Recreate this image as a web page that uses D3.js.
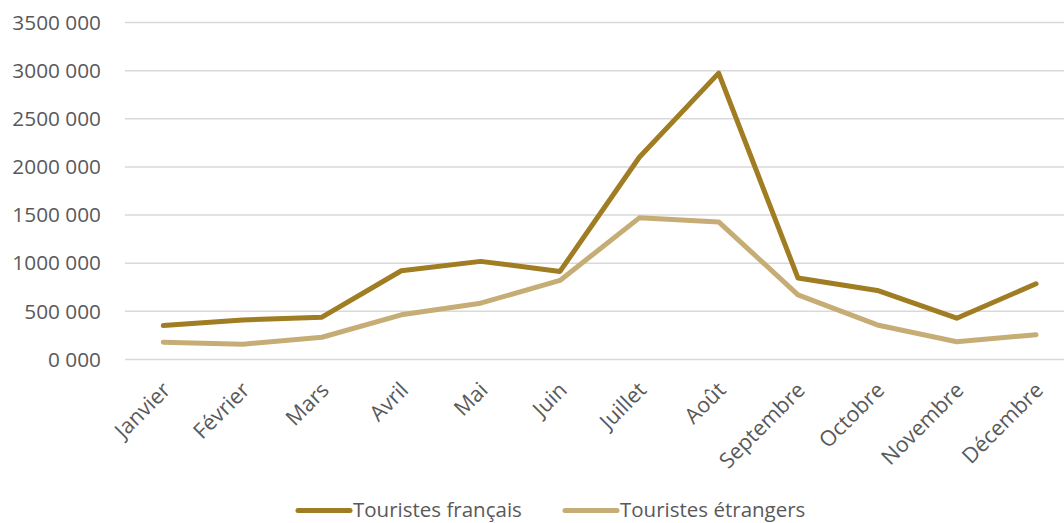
<!DOCTYPE html>
<html>
<head>
<meta charset="utf-8">
<script src="https://cdn.jsdelivr.net/npm/d3@7"></script>
<style>
  html, body { margin: 0; padding: 0; background: #ffffff; }
  svg { display: block; font-family: "Open Sans", sans-serif; }
</style>
</head>
<body>
<svg id="chart" width="1064" height="523"></svg>
<script>
const months = ["Janvier","Février","Mars","Avril","Mai","Juin","Juillet","Août","Septembre","Octobre","Novembre","Décembre"];
const touristesFrancais = [352000, 411000, 440000, 922000, 1019000, 915000, 2100000, 2974000, 846000, 717000, 429000, 786000];
const touristesEtrangers = [179000, 158000, 231000, 464000, 585000, 821000, 1471000, 1429000, 672000, 359000, 185000, 258000];
const yTicks = [0, 500000, 1000000, 1500000, 2000000, 2500000, 3000000, 3500000];
const seriesNames = ["Touristes français", "Touristes étrangers"];
const seriesColors = ["#A07C22", "#C6AD76"];

const svg = d3.select("#chart");
const plotLeft = 123.6, plotRight = 1075.7, plotTop = 23, plotBottom = 359.5;

const x = d3.scaleBand().domain(months).range([plotLeft, plotRight]);
const y = d3.scaleLinear().domain([0, 3500000]).range([plotBottom, plotTop - 0.5]);

const fmt = v => Math.floor(v / 1000) + " 000";

// gridlines
svg.append("g")
  .selectAll("line")
  .data(yTicks)
  .join("line")
  .attr("x1", 125).attr("x2", 1064)
  .attr("y1", d => y(d)).attr("y2", d => y(d))
  .attr("stroke", "#d9d9d9").attr("stroke-width", 1.5);

// y axis labels
const yAxis = d3.axisLeft(y).tickValues(yTicks).tickFormat(fmt).tickSize(0).tickPadding(0);
const gy = svg.append("g").attr("transform", "translate(101,0)").call(yAxis);
gy.select(".domain").remove();
gy.selectAll("text").attr("fill", "#595959").style("font-size", "20.8px").style("font-family", "'Open Sans', sans-serif");

// x axis labels
const xAxis = d3.axisBottom(x).tickSize(0).tickPadding(0);
const gx = svg.append("g").attr("transform", "translate(0,380)").call(xAxis);
gx.select(".domain").remove();
gx.selectAll("text")
  .attr("fill", "#595959")
  .style("font-size", "21.5px")
  .style("font-family", "'Open Sans', sans-serif")
  .attr("text-anchor", "end")
  .attr("dy", "0.75em")
  .attr("transform", "translate(-3,0) rotate(-45)");

// lines
const data = [touristesFrancais, touristesEtrangers];
const line = d3.line()
  .x((d, i) => x(months[i]) + x.bandwidth() / 2)
  .y(d => y(d));

svg.append("g")
  .selectAll("path")
  .data([1, 0])
  .join("path")
  .attr("d", i => line(data[i]))
  .attr("fill", "none")
  .attr("stroke", i => seriesColors[i])
  .attr("stroke-width", 5)
  .attr("stroke-linecap", "round")
  .attr("stroke-linejoin", "round");

// legend
const legendItems = [
  { name: seriesNames[0], color: seriesColors[0], x: 298 },
  { name: seriesNames[1], color: seriesColors[1], x: 565 }
];
const lg = svg.append("g");
legendItems.forEach(it => {
  lg.append("line")
    .attr("x1", it.x).attr("x2", it.x + 52)
    .attr("y1", 510.5).attr("y2", 510.5)
    .attr("stroke", it.color).attr("stroke-width", 5).attr("stroke-linecap", "round");
  lg.append("text")
    .attr("x", it.x + 55).attr("y", 509.5).attr("dy", "0.36em")
    .attr("fill", "#595959")
    .style("font-size", "20.5px")
    .text(it.name);
});
</script>
</body>
</html>
